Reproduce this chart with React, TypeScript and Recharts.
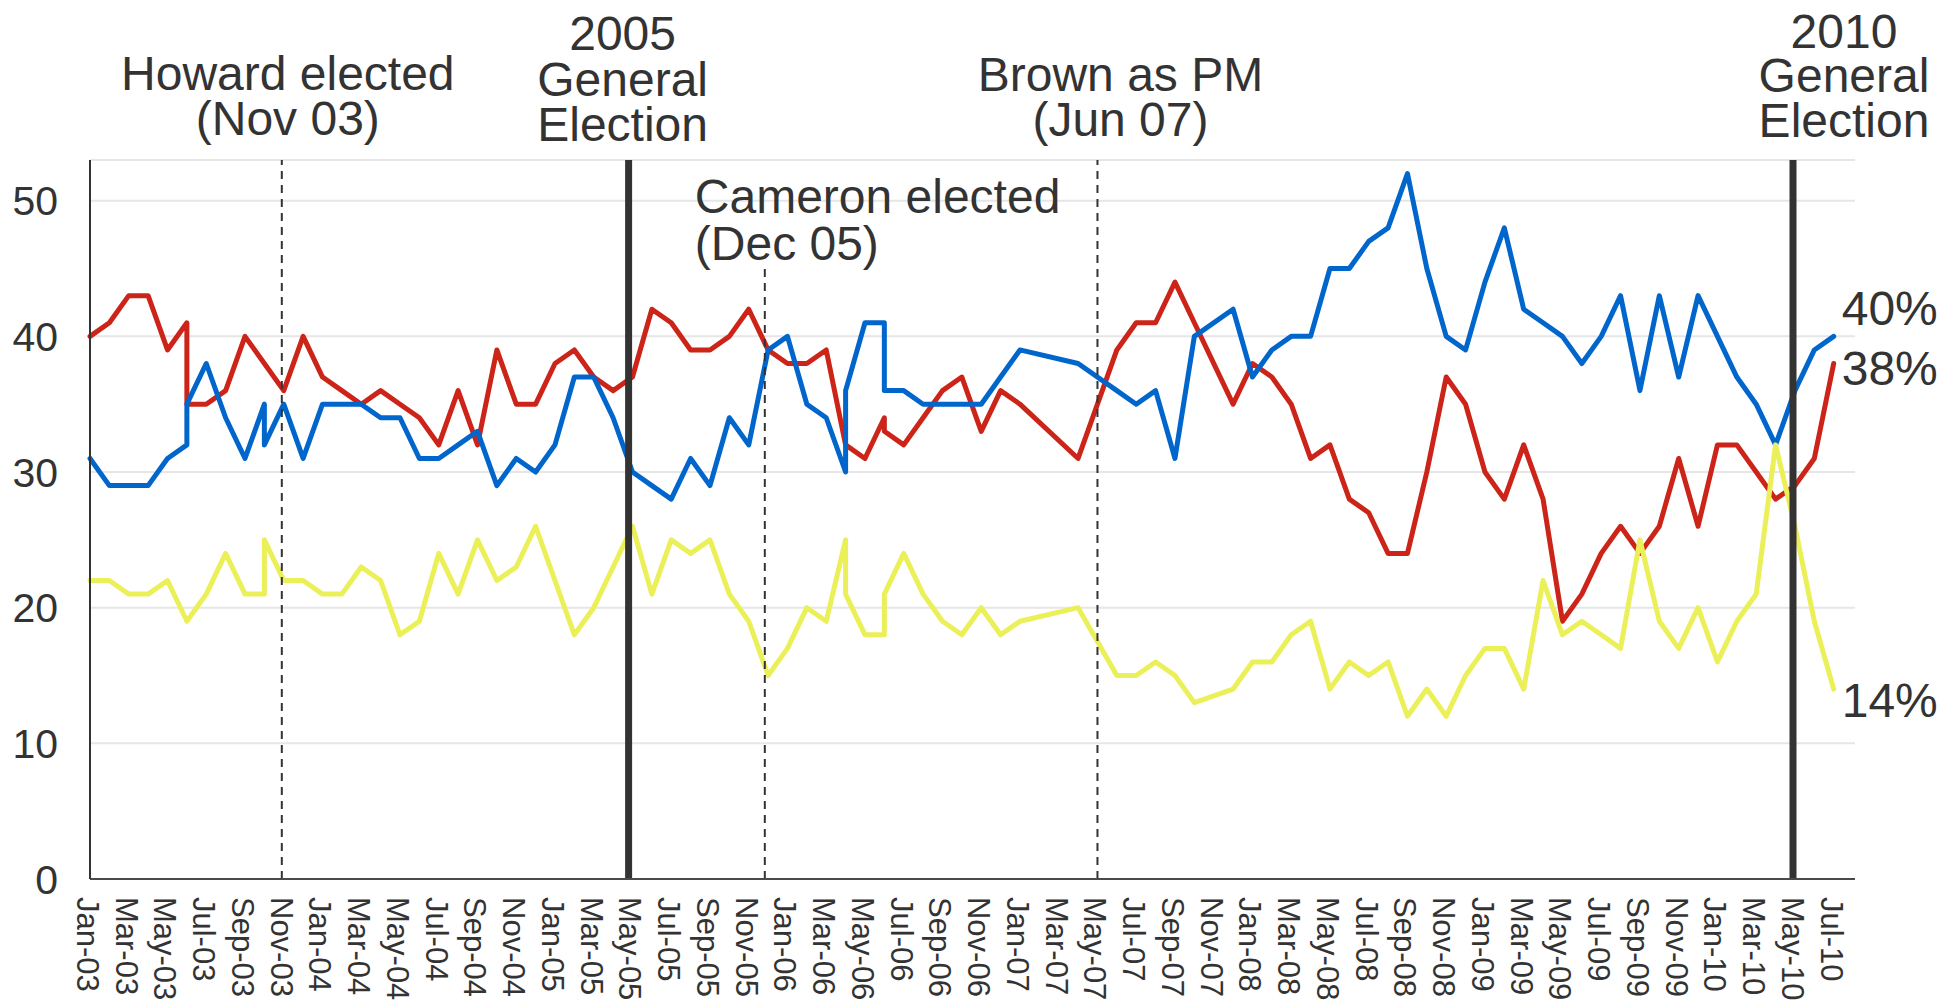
import { LineChart, Line, XAxis, YAxis, CartesianGrid, ReferenceLine } from 'recharts';

// month index from Jan-03 (0) ; repeated months = several polls in that month
const monthIdx = [
  0, 1, 2, 3, 4, 5, 5, 6, 7, 8, 9, 9, 10, 11, 12, 13, 14, 15, 16, 17, 18, 19, 20,
  21, 22, 23, 24, 25, 26, 27, 28, 29, 30, 31, 32, 33, 34, 35, 36, 37, 38, 39, 39,
  40, 41, 41, 42, 43, 44, 45, 46, 47, 48, 51, 53, 54, 55, 56, 57, 59, 60, 61, 62,
  63, 64, 65, 66, 67, 68, 69, 70, 71, 72, 73, 74, 75, 76, 77, 78, 79, 80, 81, 82,
  83, 84, 85, 86, 87, 88, 89, 90,
];
const labour = [
  40, 41, 43, 43, 39, 41, 35, 35, 36, 40, 38, 38, 36, 40, 37, 36, 35, 36, 35, 34, 32, 36, 32,
  39, 35, 35, 38, 39, 37, 36, 37, 42, 41, 39, 39, 40, 42, 39, 38, 38, 39, 32, 32,
  31, 34, 33, 32, 34, 36, 37, 33, 36, 35, 31, 39, 41, 41, 44, 41, 35, 38, 37, 35,
  31, 32, 28, 27, 24, 24, 30, 37, 35, 30, 28, 32, 28, 19, 21, 24, 26, 24, 26, 31,
  26, 32, 32, 30, 28, 29, 31, 38,
];
const conservative = [
  31, 29, 29, 29, 31, 32, 35, 38, 34, 31, 35, 32, 35, 31, 35, 35, 35, 34, 34, 31, 31, 32, 33,
  29, 31, 30, 32, 37, 37, 34, 30, 29, 28, 31, 29, 34, 32, 39, 40, 35, 34, 30, 36,
  41, 41, 36, 36, 35, 35, 35, 35, 37, 39, 38, 36, 35, 36, 31, 40, 42, 37, 39, 40,
  40, 45, 45, 47, 48, 52, 45, 40, 39, 44, 48, 42, 41, 40, 38, 40, 43, 36, 43, 37,
  43, 40, 37, 35, 32, 36, 39, 40,
];
const libdem = [
  22, 22, 21, 21, 22, 19, 19, 21, 24, 21, 21, 25, 22, 22, 21, 21, 23, 22, 18, 19, 24, 21, 25,
  22, 23, 26, 22, 18, 20, 23, 26, 21, 25, 24, 25, 21, 19, 15, 17, 20, 19, 25, 21,
  18, 18, 21, 24, 21, 19, 18, 20, 18, 19, 20, 15, 15, 16, 15, 13, 14, 16, 16, 18,
  19, 14, 16, 15, 16, 12, 14, 12, 15, 17, 17, 14, 22, 18, 19, 18, 17, 25, 19, 17,
  20, 16, 19, 21, 32, 26, 19, 14,
];

const tickMonths = [
  0, 2, 4, 6, 8, 10, 12, 14, 16, 18, 20, 22, 24, 26, 28, 30, 32, 34, 36, 38, 40, 42, 44,
  46, 48, 50, 52, 54, 56, 58, 60, 62, 64, 66, 68, 70, 72, 74, 76, 78, 80, 82, 84, 86, 88, 90,
];
const tickLabels = [
  'Jan-03', 'Mar-03', 'May-03', 'Jul-03', 'Sep-03', 'Nov-03',
  'Jan-04', 'Mar-04', 'May-04', 'Jul-04', 'Sep-04', 'Nov-04',
  'Jan-05', 'Mar-05', 'May-05', 'Jul-05', 'Sep-05', 'Nov-05',
  'Jan-06', 'Mar-06', 'May-06', 'Jul-06', 'Sep-06', 'Nov-06',
  'Jan-07', 'Mar-07', 'May-07', 'Jul-07', 'Sep-07', 'Nov-07',
  'Jan-08', 'Mar-08', 'May-08', 'Jul-08', 'Sep-08', 'Nov-08',
  'Jan-09', 'Mar-09', 'May-09', 'Jul-09', 'Sep-09', 'Nov-09',
  'Jan-10', 'Mar-10', 'May-10', 'Jul-10',
];
const yTicks = [0, 10, 20, 30, 40, 50];

// events (month index) and their captions
const howardMonth = 9.9;
const election2005Month = 27.8;
const cameronMonth = 34.83;
const brownMonth = 52;
const election2010Month = 87.9;
const howardText = ['Howard elected', '(Nov 03)'];
const election2005Text = ['2005', 'General', 'Election'];
const cameronText = ['Cameron elected', '(Dec 05)'];
const brownText = ['Brown as PM', '(Jun 07)'];
const election2010Text = ['2010', 'General', 'Election'];

const data = monthIdx.map((m, i) => ({
  m,
  lab: labour[i],
  con: conservative[i],
  lib: libdem[i],
}));

const FONT = '"Liberation Sans", Arial, Helvetica, sans-serif';
const TEXT = '#333333';
const RED = '#cc2418';
const BLUE = '#0066cc';
const YELLOW = '#ebf058';

function Annotation({ viewBox, lines, dx, baselines, anchor }: any) {
  const x = (viewBox?.x ?? 0) + dx;
  return (
    <g>
      {lines.map((t: string, i: number) => (
        <text
          key={i}
          x={x}
          y={baselines[i]}
          fontSize={48}
          fill={TEXT}
          fontFamily={FONT}
          textAnchor={anchor}
        >
          {t}
        </text>
      ))}
    </g>
  );
}

function MonthTick({ x, y, payload }: any) {
  const label = tickLabels[tickMonths.indexOf(payload.value)];
  const ty = y + 18;
  return (
    <text
      x={x}
      y={ty}
      dy={13}
      transform={`rotate(90 ${x} ${ty})`}
      fontSize={31}
      fill={TEXT}
      fontFamily={FONT}
      textAnchor="start"
    >
      {label}
    </text>
  );
}

const endLabel = (dy: number) => (props: any) => {
  const { index, value } = props;
  if (index !== data.length - 1) return <g key={`e-${index}`} />;
  const px = props.x ?? props.viewBox?.x ?? 0;
  const py = props.y ?? props.viewBox?.y ?? 0;
  return (
    <text
      key={`e-${index}`}
      x={px + 8}
      y={py + dy}
      fontSize={48}
      fill={TEXT}
      fontFamily={FONT}
      textAnchor="start"
    >
      {value}%
    </text>
  );
};

export default function App() {
  return (
    <div style={{ position: 'absolute', left: 0, top: 0, background: '#fff' }}>
      <LineChart
        width={1941}
        height={1001}
        data={data}
        margin={{ top: 160, right: 86, bottom: 0, left: 0 }}
      >
        <CartesianGrid vertical={false} stroke="#e6e6e6" strokeWidth={2} />
        <XAxis
          dataKey="m"
          type="number"
          domain={[0, 91.1]}
          ticks={tickMonths}
          interval={0}
          tick={<MonthTick />}
          tickLine={false}
          tickSize={0}
          tickMargin={0}
          height={122}
          axisLine={{ stroke: '#4a4a4a', strokeWidth: 2 }}
        />
        <YAxis
          type="number"
          domain={[0, 53]}
          ticks={yTicks}
          width={90}
          tickLine={false}
          tickSize={0}
          tickMargin={32}
          axisLine={{ stroke: '#333', strokeWidth: 2 }}
          tick={{ fontSize: 41, fill: TEXT, fontFamily: FONT }}
        />
        <Line
          dataKey="lab"
          stroke={RED}
          strokeWidth={5}
          dot={false}
          activeDot={false}
          strokeLinejoin="round"
          strokeLinecap="round"
          isAnimationActive={false}
          label={endLabel(22)}
        />
        <Line
          dataKey="con"
          stroke={BLUE}
          strokeWidth={5}
          dot={false}
          activeDot={false}
          strokeLinejoin="round"
          strokeLinecap="round"
          isAnimationActive={false}
          label={endLabel(-11)}
        />
        <Line
          dataKey="lib"
          stroke={YELLOW}
          strokeWidth={5}
          dot={false}
          activeDot={false}
          strokeLinejoin="round"
          strokeLinecap="round"
          isAnimationActive={false}
          label={endLabel(28)}
        />

        {/* leadership changes: dashed */}
        <ReferenceLine
          x={howardMonth}
          stroke="#333"
          strokeWidth={2}
          strokeDasharray="8 6"
          label={(p: any) => (
            <Annotation viewBox={p.viewBox} lines={howardText} dx={6} baselines={[90, 135]} anchor="middle" />
          )}
        />
        <ReferenceLine
          segment={[
            { x: cameronMonth, y: 0 },
            { x: cameronMonth, y: 45.2 },
          ]}
          stroke="#333"
          strokeWidth={2}
          strokeDasharray="8 6"
          label={(p: any) => (
            <Annotation viewBox={p.viewBox} lines={cameronText} dx={-70} baselines={[213, 260]} anchor="start" />
          )}
        />
        <ReferenceLine
          x={brownMonth}
          stroke="#333"
          strokeWidth={2}
          strokeDasharray="8 6"
          label={(p: any) => (
            <Annotation viewBox={p.viewBox} lines={brownText} dx={23} baselines={[91, 136]} anchor="middle" />
          )}
        />

        {/* general elections: thick */}
        <ReferenceLine
          x={election2005Month}
          stroke="#333"
          strokeWidth={7}
          label={(p: any) => (
            <Annotation viewBox={p.viewBox} lines={election2005Text} dx={-6} baselines={[50, 96, 141]} anchor="middle" />
          )}
        />
        <ReferenceLine
          x={election2010Month}
          stroke="#333"
          strokeWidth={7}
          label={(p: any) => (
            <Annotation viewBox={p.viewBox} lines={election2010Text} dx={51} baselines={[48, 92, 137]} anchor="middle" />
          )}
        />
      </LineChart>
    </div>
  );
}
